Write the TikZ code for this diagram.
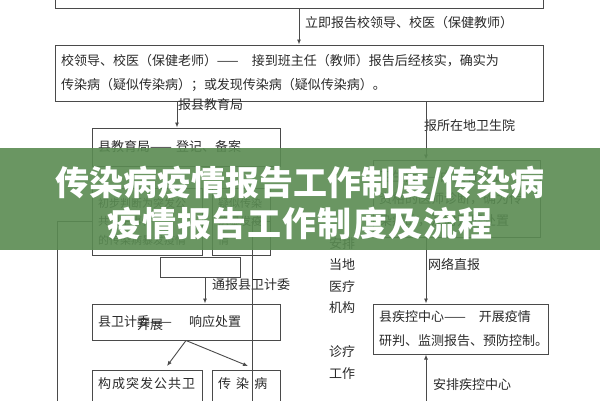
\documentclass[tikz,border=0pt]{standalone}
\usepackage{fontspec}
\setmainfont{Noto Sans CJK SC}
\usetikzlibrary{positioning, arrows.meta}
\definecolor{linegray}{HTML}{4A4A4A}
\definecolor{textgray}{HTML}{2A2A2A}
\definecolor{bannergreen}{HTML}{5A8B52}

\begin{document}
\begin{tikzpicture}[x=1pt, y=-1pt,
    box/.style = {draw=linegray, line width=1pt, inner xsep=6pt, inner ysep=0pt, align=left, text=textgray, font=\fontsize{13}{24}\selectfont},
    small/.style = {box, font=\fontsize{11}{18.5}\selectfont},
    lbl/.style = {anchor=west, inner sep=0pt, text=textgray, font=\fontsize{13}{15}\selectfont},
    vlbl/.style = {inner sep=0pt, text=textgray, font=\fontsize{13}{15}\selectfont},
    line/.style = {draw=linegray, line width=0.9pt},
    arr/.style = {line, -{Latex[length=5pt, width=4pt]}},
    banner/.style = {fill=bannergreen, fill opacity=0.9, draw=none},
    title/.style = {text=white, inner sep=0pt, font=\fontsize{34}{36}\selectfont\bfseries}]
    \useasboundingbox (0,0) rectangle (600,400);
    \fill[white] (0,0) rectangle (600,400);
    \begin{scope}
    \clip (0,0) rectangle (600,400);
    % Nodes
    \node[box, minimum width=488pt, minimum height=48pt] (top) at (299,-16) {};
    \node[box, text width=476pt, minimum height=56pt] (school) at (299,73)
        {校领导、校医（保健老师）——　接到班主任（教师）报告后经核实，确实为\\传染病（疑似传染病）；或发现传染病（疑似传染病）。};
    \node[box, text width=176pt, minimum height=38pt] (edu) at (186,147) {县教育局—— 登记、备案};
    \node[box, text width=155pt, minimum height=77pt, font=\fontsize{13}{22}\selectfont] (hosp) at (456.5,198.5)
        {卫生院——由具有执业\\资格的医师诊断，确为传\\染病的，及时开展处置};
    \node[small, text width=98pt, minimum height=67pt] (judge) at (147,221.5)
        {初步判断为突发公\\共卫生事件\\的传染病暴发疫情};
    \node[small, text width=46pt, minimum height=67pt] (suspect) at (241,221.5)
        {疑似传染\\病暴发疫\\情};
    \node[box, minimum width=80pt, minimum height=20pt] (blank) at (200,267) {};
    \node[box, text width=176pt, minimum height=36pt] (wjw) at (186,322) {县卫计委—— 　响应处置};
    \node[lbl] (wjwextra) at (137,325) {开展};
    \node[box, text width=98pt, minimum height=50pt] (pub) at (147,395) {\addfontfeature{LetterSpace=8}构成突发公共卫\\\ };
    \node[box, text width=56pt, minimum height=50pt] (inf) at (246,395) {\addfontfeature{LetterSpace=40}传染病\\\ };
    \node[box, text width=163pt, minimum height=50pt] (cdc) at (460.5,329)
        {县疾控中心——　开展疫情\\研判、监测报告、预防控制。};
    % Labels
    \node[lbl] (l1) at (305,23) {立即报告校领导、校医（保健教师）};
    \node[lbl] (l2) at (178,105) {报县教育局};
    \node[lbl] (l3) at (424,126) {报所在地卫生院};
    \node[lbl] (l4) at (212,285) {通报县卫计委};
    \node[lbl] (l5) at (428,264) {网络直报};
    \node[lbl] (l6) at (433,385) {安排疾控中心};
    \node[vlbl] (m1) at (342,244) {安排};
    \node[vlbl] (m2) at (342,265) {当地};
    \node[vlbl] (m3) at (342,287) {医疗};
    \node[vlbl] (m4) at (342,308) {机构};
    \node[vlbl] (m5) at (342,352) {诊疗};
    \node[vlbl] (m6) at (342,374) {工作};
    % Coordinates
    \coordinate (a1) at (177,0);
    \coordinate (a2) at (426,0);
    \coordinate (a3) at (205,0);
    \coordinate (t1) at (167,366);
    \coordinate (t2) at (248,366);
    \coordinate (leftend) at (57,410);
    \coordinate (rightend) at (252,410);
    \coordinate (cdcfoot) at (426,410);

    % Lines
    \draw[arr] (top) -- (school);
    \draw[arr] (school.south -| a1) -- (edu.north -| a1);
    \draw[arr] (school.south -| a2) -- (hosp.north -| a2);
    \draw[arr] (hosp.south -| a2) -- (cdc.north -| a2);
    \draw[arr] (cdcfoot) -- (cdc.south -| a2);
    \draw[arr] (blank.south -| a3) -- (wjw.north -| a3);
    \draw[arr] (wjw.south) -- (t1);
    \draw[arr] (wjw.south) -- (t2);
    \draw[line] (judge.west) -| (leftend);
    \draw[line] (suspect.east) -| (rightend);

    % Banner
    \fill[banner] (0,148) rectangle (600,250);
    \node[title] (head1) at (300,184) {传染病疫情报告工作制度/传染病};
    \node[title] (head2) at (300,224) {\addfontfeature{LetterSpace=3}疫情报告工作制度及流程};
    \end{scope}
\end{tikzpicture}
\end{document}
